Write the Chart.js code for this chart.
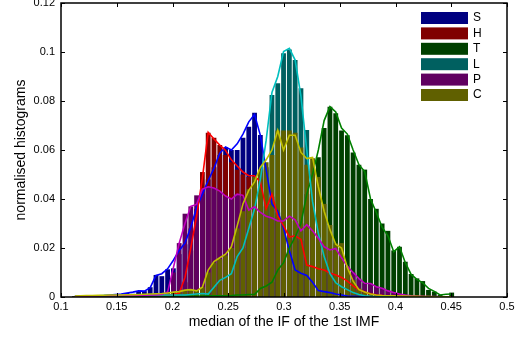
<!DOCTYPE html>
<html>
<head>
<meta charset="utf-8">
<style>
  html, body { margin: 0; padding: 0; background: #fff; }
</style>
</head>
<body>
<canvas id="histChart" width="516" height="339"></canvas>

<script src="https://cdn.jsdelivr.net/npm/chart.js"></script>
<script>
// bin centres (x axis)
const binCenters = [
  0.1124, 0.1176, 0.1228, 0.1280, 0.1332, 0.1384, 0.1436, 0.1488, 0.1540, 0.1592, 0.1644,
  0.1696, 0.1748, 0.1800, 0.1852, 0.1904, 0.1956, 0.2008, 0.2060, 0.2112, 0.2164, 0.2216,
  0.2268, 0.2320, 0.2372, 0.2424, 0.2476, 0.2528, 0.2580, 0.2632, 0.2684, 0.2736, 0.2788,
  0.2840, 0.2892, 0.2944, 0.2996, 0.3048, 0.3100, 0.3152, 0.3204, 0.3256, 0.3308, 0.3360,
  0.3412, 0.3464, 0.3516, 0.3568, 0.3620, 0.3672, 0.3724, 0.3776, 0.3828, 0.3880, 0.3932,
  0.3984, 0.4036, 0.4088, 0.4140, 0.4192, 0.4244, 0.4296, 0.4348, 0.4400, 0.4452, 0.4504
];

const seriesNames = ['S', 'H', 'T', 'L', 'P', 'C'];
const xTicks = [0.1, 0.15, 0.2, 0.25, 0.3, 0.35, 0.4, 0.45, 0.5];
const yTicks = [0, 0.02, 0.04, 0.06, 0.08, 0.1, 0.12];

// histogram bars
const barS = [
  .0002, .0003, .0002, .0005, .0004, .0007, .0006, .0011, .0010, .0016, .0013,
  .0022, .0024, .0040, .0090, .0085, .0113, .0117, .0175, .0215, .0280, .0360,
  .0420, .0480, .0530, .0580, .0610, .0600, .0600, .0650, .0695, .0752, .0661,
  .0530, .0380, .0345, .0275, .0185, .0110, .0095, .0085, .0060, .0028, .0022,
  .0016, .0012, .0008, .0004, .0003, .0002, .0001, 0, 0, 0, 0,
  0, 0, 0, 0, 0, 0, 0, 0, 0, 0, 0
];
const barH = [
  .0001, .0001, .0001, .0002, .0002, .0002, .0003, .0003, .0003, .0004, .0004,
  .0005, .0005, .0006, .0006, .0007, .0008, .0010, .0015, .0060, .0190, .0330,
  .0510, .0670, .0650, .0620, .0580, .0550, .0520, .0500, .0490, .0490, .0480,
  .0370, .0410, .0330, .0290, .0240, .0250, .0230, .0130, .0120, .0115, .0110,
  .0098, .0090, .0080, .0065, .0045, .0030, .0020, .0013, .0008, .0006, .0004,
  .0004, .0003, .0003, .0002, .0002, .0001, .0001, .0001, 0, 0, 0
];
const barT = [
  .0001, .0001, .0001, .0001, .0001, .0001, .0001, .0001, .0001, .0001, .0001,
  .0002, .0002, .0002, .0003, .0003, .0003, .0003, .0003, .0003, .0004, .0004,
  .0004, .0005, .0005, .0005, .0005, .0006, .0008, .0008, .0010, .0010, .0030,
  .0040, .0060, .0110, .0140, .0200, .0240, .0300, .0420, .0500, .0570, .0690,
  .0777, .0750, .0680, .0660, .0590, .0540, .0520, .0400, .0360, .0300, .0270,
  .0190, .0205, .0144, .0094, .0076, .0065, .0029, .0022, .0008, .0004, .0018
];
const barL = [
  .0003, .0004, .0004, .0005, .0005, .0006, .0006, .0006, .0007, .0007, .0007,
  .0008, .0008, .0008, .0008, .0008, .0008, .0008, .0008, .0008, .0010, .0012,
  .0014, .0012, .0040, .0065, .0080, .0095, .0160, .0200, .0280, .0360, .0460,
  .0520, .0824, .0872, .0995, .1010, .0967, .0852, .0682, .0400, .0260, .0170,
  .0095, .0060, .0040, .0030, .0018, .0010, .0005, .0003, .0002, .0002, .0001,
  .0001, .0001, 0, 0, 0, 0, 0, 0, 0, 0, 0
];
const barP = [
  .0002, .0003, .0003, .0004, .0004, .0005, .0005, .0005, .0006, .0006, .0006,
  .0007, .0007, .0008, .0008, .0010, .0020, .0100, .0220, .0340, .0370, .0415,
  .0440, .0450, .0445, .0430, .0410, .0400, .0420, .0410, .0360, .0370, .0345,
  .0330, .0320, .0310, .0310, .0330, .0310, .0270, .0290, .0270, .0240, .0205,
  .0190, .0200, .0160, .0125, .0100, .0075, .0056, .0055, .0042, .0036, .0025,
  .0018, .0012, .0008, .0005, .0003, .0003, .0002, .0002, .0001, .0001, .0001
];
const barC = [
  .0004, .0005, .0006, .0006, .0007, .0007, .0008, .0008, .0008, .0009, .0009,
  .0010, .0011, .0012, .0013, .0014, .0016, .0020, .0022, .0028, .0030, .0025,
  .0040, .0100, .0140, .0155, .0170, .0200, .0280, .0350, .0440, .0490, .0520,
  .0550, .0580, .0680, .0680, .0680, .0670, .0610, .0540, .0566, .0490, .0380,
  .0294, .0219, .0220, .0124, .0069, .0035, .0020, .0010, .0008, .0006, .0005,
  .0005, .0004, .0004, .0003, .0003, .0002, .0002, .0001, .0001, .0001, .0001
];

// overlaid curves
const lineS = [
  .0002, .0003, .0003, .0004, .0005, .0006, .0008, .0010, .0012, .0016, .0020,
  .0025, .0024, .0038, .0088, .0095, .0115, .0150, .0190, .0220, .0285, .0365,
  .0420, .0475, .0525, .0587, .0612, .0600, .0625, .0665, .0715, .0745, .0660,
  .0520, .0380, .0350, .0280, .0190, .0110, .0097, .0088, .0060, .0026, .0022,
  .0018, .0012, .0008, .0004, .0003, .0002, .0001, .0001, .0001, 0, 0,
  0, 0, 0, 0, 0, 0, 0, 0, 0, 0, 0
];
const lineH = [
  .0001, .0001, .0001, .0002, .0002, .0002, .0003, .0003, .0003, .0004, .0004,
  .0005, .0005, .0006, .0006, .0007, .0008, .0010, .0015, .0080, .0200, .0330,
  .0485, .0672, .0645, .0620, .0598, .0560, .0535, .0510, .0495, .0495, .0470,
  .0360, .0420, .0330, .0290, .0245, .0250, .0235, .0130, .0124, .0115, .0110,
  .0098, .0090, .0080, .0065, .0045, .0030, .0020, .0013, .0008, .0006, .0004,
  .0004, .0003, .0003, .0002, .0002, .0001, .0001, .0001, 0, 0, 0
];
const lineT = [
  .0001, .0001, .0001, .0001, .0001, .0001, .0001, .0001, .0001, .0001, .0001,
  .0002, .0002, .0002, .0003, .0003, .0003, .0003, .0003, .0003, .0004, .0004,
  .0004, .0005, .0005, .0005, .0005, .0006, .0008, .0008, .0010, .0010, .0035,
  .0045, .0060, .0110, .0140, .0200, .0245, .0300, .0420, .0500, .0600, .0720,
  .0777, .0755, .0690, .0665, .0600, .0540, .0512, .0400, .0345, .0285, .0250,
  .0185, .0205, .0140, .0092, .0072, .0058, .0035, .0023, .0008, .0011, .0012
];
const lineL = [
  .0003, .0004, .0004, .0005, .0005, .0006, .0006, .0006, .0007, .0007, .0007,
  .0008, .0008, .0008, .0008, .0008, .0008, .0008, .0008, .0008, .0010, .0012,
  .0014, .0012, .0040, .0068, .0080, .0095, .0165, .0200, .0280, .0360, .0480,
  .0640, .0835, .0900, .1002, .1015, .0967, .0820, .0600, .0390, .0260, .0165,
  .0095, .0058, .0042, .0030, .0018, .0010, .0005, .0003, .0002, .0002, .0001,
  .0001, .0001, 0, 0, 0, 0, 0, 0, 0, 0, 0
];
const lineP = [
  .0002, .0003, .0003, .0004, .0004, .0005, .0005, .0005, .0006, .0006, .0006,
  .0007, .0007, .0008, .0008, .0010, .0020, .0120, .0220, .0300, .0370, .0378,
  .0440, .0450, .0445, .0432, .0412, .0400, .0420, .0415, .0355, .0368, .0345,
  .0330, .0322, .0310, .0310, .0330, .0315, .0270, .0295, .0270, .0240, .0205,
  .0192, .0198, .0160, .0125, .0100, .0075, .0056, .0055, .0042, .0036, .0025,
  .0018, .0012, .0008, .0005, .0003, .0003, .0002, .0002, .0001, .0001, .0001
];
const lineC = [
  .0004, .0005, .0006, .0006, .0007, .0007, .0008, .0008, .0008, .0009, .0009,
  .0010, .0011, .0012, .0013, .0014, .0016, .0020, .0022, .0028, .0030, .0025,
  .0040, .0110, .0145, .0160, .0175, .0205, .0290, .0380, .0435, .0470, .0530,
  .0560, .0600, .0680, .0600, .0660, .0660, .0590, .0565, .0570, .0450, .0350,
  .0275, .0215, .0200, .0120, .0065, .0030, .0020, .0012, .0008, .0006, .0005,
  .0005, .0004, .0004, .0003, .0003, .0002, .0002, .0001, .0001, .0001, .0001
];

const barColors = ['#000080', '#800000', '#004000', '#006060', '#600060', '#606000'];
const lineColors = ['#0000ff', '#ff0000', '#008000', '#00bfbf', '#bf00bf', '#bfbf00'];

const FONT = "'Liberation Sans', Arial, Helvetica, sans-serif";
const toPoints = vals => vals.map((v, i) => ({ x: binCenters[i], y: v }));
const fmt = v => String(Number(Number(v).toFixed(3)));

const bars = [barS, barH, barT, barL, barP, barC];
const lines = [lineS, lineH, lineT, lineL, lineP, lineC];

const datasets = [];
bars.forEach((vals, i) => {
  datasets.push({
    type: 'bar',
    label: seriesNames[i],
    data: toPoints(vals),
    backgroundColor: barColors[i],
    borderWidth: 0,
    grouped: false,
    barPercentage: 0.83,
    categoryPercentage: 1,
    order: 6 - i          // S drawn first, C last
  });
});
lines.forEach((vals, i) => {
  datasets.push({
    type: 'line',
    label: seriesNames[i] + ' curve',
    data: toPoints(vals),
    borderColor: lineColors[i],
    borderWidth: 1.6,
    pointRadius: 0,
    tension: 0,
    fill: false,
    order: -i
  });
});

// matlab style box, inward ticks and legend
const matlabFrame = {
  id: 'matlabFrame',
  afterDatasetsDraw(chart) {
    const { ctx, chartArea: a, scales: { x, y } } = chart;
    ctx.save();
    ctx.strokeStyle = '#000';
    ctx.lineWidth = 1;
    ctx.beginPath();
    xTicks.forEach(v => {
      const px = Math.round(x.getPixelForValue(v)) + 0.5;
      ctx.moveTo(px, a.bottom); ctx.lineTo(px, a.bottom - 4);
      ctx.moveTo(px, a.top); ctx.lineTo(px, a.top + 4);
    });
    yTicks.forEach(v => {
      const py = Math.round(y.getPixelForValue(v)) + 0.5;
      ctx.moveTo(a.left, py); ctx.lineTo(a.left + 4, py);
      ctx.moveTo(a.right, py); ctx.lineTo(a.right - 4, py);
    });
    ctx.stroke();
    ctx.lineWidth = 1.5;
    ctx.strokeRect(a.left, a.top, a.right - a.left, a.bottom - a.top);

    // legend
    ctx.font = '12px ' + FONT;
    ctx.textBaseline = 'middle';
    ctx.textAlign = 'left';
    seriesNames.forEach((name, i) => {
      const yc = 18 + i * 15.4;
      ctx.fillStyle = barColors[i];
      ctx.fillRect(421, yc - 6, 47, 12);
      ctx.fillStyle = '#000';
      ctx.fillText(name, 473, yc);
    });
    ctx.restore();
  }
};

const ctx = document.getElementById('histChart').getContext('2d');
new Chart(ctx, {
  type: 'bar',
  data: { datasets },
  plugins: [matlabFrame],
  options: {
    responsive: false,
    animation: false,
    events: [],
    layout: { padding: { top: 3, right: 9, bottom: 0, left: 0 } },
    plugins: {
      legend: { display: false },
      tooltip: { enabled: false }
    },
    scales: {
      x: {
        type: 'linear',
        min: 0.1,
        max: 0.5,
        offset: false,
        grid: { display: false, drawTicks: false },
        border: { display: false },
        afterBuildTicks: s => { s.ticks = xTicks.map(v => ({ value: v })); },
        afterFit: s => { s.height = 42; s.paddingLeft = 0; s.paddingRight = 0; },
        ticks: {
          padding: 3,
          maxRotation: 0,
          autoSkip: false,
          color: '#000',
          font: { family: FONT, size: 11 },
          callback: v => fmt(v)
        },
        title: {
          display: true,
          text: 'median of the IF of the 1st IMF',
          color: '#000',
          font: { family: FONT, size: 14 },
          padding: { top: 0, bottom: 8 }
        }
      },
      y: {
        min: 0,
        max: 0.12,
        grid: { display: false, drawTicks: false },
        border: { display: false },
        afterBuildTicks: s => { s.ticks = yTicks.map(v => ({ value: v })); },
        afterFit: s => { s.width = 61; s.paddingTop = 0; s.paddingBottom = 0; },
        ticks: {
          padding: 6,
          color: '#000',
          font: { family: FONT, size: 11 },
          callback: v => fmt(v)
        },
        title: {
          display: true,
          text: 'normalised histograms',
          color: '#000',
          font: { family: FONT, size: 14 },
          padding: { top: 13, bottom: 0 }
        }
      }
    }
  }
});
</script>
</body>
</html>
